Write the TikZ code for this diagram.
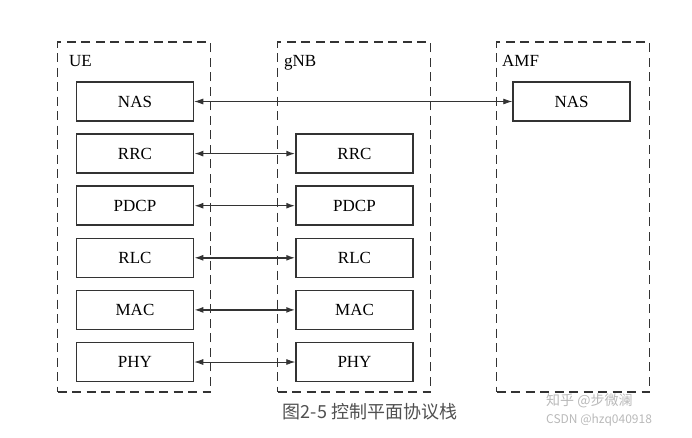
\documentclass[tikz,border=0pt]{standalone}
\usepackage{fontspec}
\setmainfont{Liberation Serif}
\newfontfamily\timesfont{Liberation Serif}
\newfontfamily\cjk{Noto Sans CJK SC}
\usetikzlibrary{positioning,arrows.meta}
\definecolor{boxgray}{RGB}{51,51,51}
\definecolor{capgray}{RGB}{80,80,80}
\definecolor{markgray}{RGB}{185,185,185}

\tikzset{
  entity/.style={draw=boxgray, line width=1.6pt, dash pattern=on 9pt off 5.5pt, minimum width=153pt, minimum height=350pt, inner sep=0pt},
  entlabel/.style={anchor=base west, inner sep=0pt, font=\timesfont\fontsize{17}{20}\selectfont},
  layer/.style={draw=boxgray, line width=1.5pt, minimum width=117pt, minimum height=39pt, inner sep=0pt, font=\timesfont\fontsize{17}{20}\selectfont},
  link/.style={{Latex[length=9pt,width=6pt]}-{Latex[length=9pt,width=6pt]}, draw=boxgray, line width=0.8pt},
  thicklink/.style={link, line width=1.5pt},
}

\begin{document}
\begin{tikzpicture}[x=1pt, y=-1pt, node distance=11.6pt]
  \useasboundingbox (0,0) rectangle (692,437);

  % Entities
  \node[entity] (ue) at (134,217) {};
  \node[entity] (gnb) at (354,217) {};
  \node[entity] (amf) at (573,217) {};
  \node[entlabel] (ue-lbl) at (69,66) {UE};
  \node[entlabel] (gnb-lbl) at (284,66) {gNB};
  \node[entlabel] (amf-lbl) at (502,66) {AMF};

  % UE stack
  \node[layer] (ue-nas) at (135,101.5) {NAS};
  \node[layer, below=of ue-nas] (ue-rrc) {RRC};
  \node[layer, below=of ue-rrc] (ue-pdcp) {PDCP};
  \node[layer, below=of ue-pdcp] (ue-rlc) {RLC};
  \node[layer, below=of ue-rlc] (ue-mac) {MAC};
  \node[layer, below=of ue-mac] (ue-phy) {PHY};

  % gNB stack
  \node[layer, right=101pt of ue-rrc] (gnb-rrc) {RRC};
  \node[layer, below=of gnb-rrc] (gnb-pdcp) {PDCP};
  \node[layer, below=of gnb-pdcp] (gnb-rlc) {RLC};
  \node[layer, below=of gnb-rlc] (gnb-mac) {MAC};
  \node[layer, below=of gnb-mac] (gnb-phy) {PHY};

  % AMF stack
  \node[layer] (amf-nas) at (571.5,101.5) {NAS};

  % Arrows
  \draw[link] (ue-nas) -- (amf-nas);
  \draw[thicklink] (ue-rrc) -- (gnb-rrc);
  \draw[thicklink] (ue-pdcp) -- (gnb-pdcp);
  \draw[thicklink] (ue-rlc) -- (gnb-rlc);
  \draw[thicklink] (ue-mac) -- (gnb-mac);
  \draw[link] (ue-phy) -- (gnb-phy);

  % Caption and watermark
  \node[font=\cjk\fontsize{18}{20}\selectfont, text=capgray] (caption) at (370,412) {图2-5 控制平面协议栈};
  \node[font=\cjk\fontsize{14}{16}\selectfont, text=markgray, anchor=west, inner sep=0pt] (mark-zh) at (546,401) {知乎 @步微澜};
  \node[font=\cjk\fontsize{12}{14}\selectfont, text=markgray, anchor=west, inner sep=0pt] (mark-csdn) at (546,420) {CSDN @hzq040918};
\end{tikzpicture}
\end{document}
